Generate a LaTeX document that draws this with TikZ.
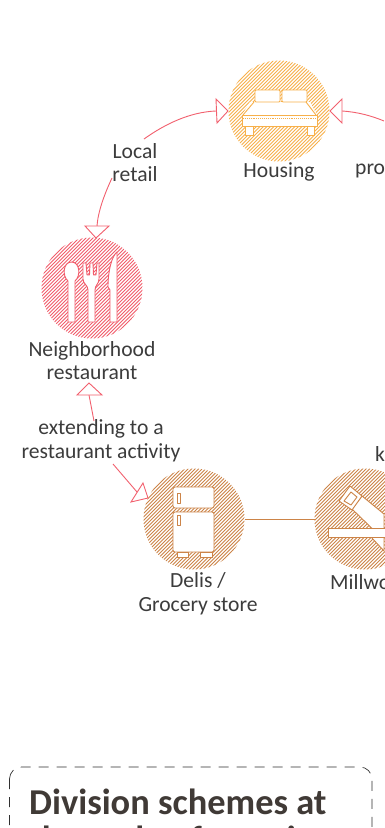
\documentclass[tikz,border=0pt]{standalone}
\usepackage{fontspec}
\setmainfont{Carlito}
\definecolor{housec}{HTML}{F7B04A}
\definecolor{restc}{HTML}{F25C6B}
\definecolor{delic}{HTML}{CC8448}
\definecolor{linkc}{HTML}{F2606E}
\definecolor{textc}{HTML}{3C3C3C}
\definecolor{titlec}{HTML}{403A36}
\tikzset{x=1pt,y=-1pt,
 hatchdisc/.style={circle,minimum size=#1,inner sep=0pt,outer sep=0pt},
 lab/.style={text=textc,font=\fontsize{21.6}{23}\selectfont,align=center,inner sep=0pt},
 link/.style={draw=linkc,line width=0.9pt},
 tipbox/.style={draw=linkc,line width=0.9pt,fill=white,line join=miter},
 iconw/.style={draw=#1,fill=white,line width=0.9pt,line join=round},
 ttl/.style={anchor=base west,text=titlec,font=\fontsize{36.4}{40}\selectfont\bfseries,inner sep=0pt}}
\newcommand{\hatchcircle}[4]{% x,y,r,colour
 \begin{scope}
 \clip (#1,#2) circle[radius=#3];
 \foreach \k in {-70,-66.5,...,70}{
   \draw[#4,line width=0.75pt] (#1+\k-70,#2+70) -- (#1+\k+70,#2-70);
 }
 \end{scope}
}
\begin{document}
\begin{tikzpicture}
\useasboundingbox (0,0) rectangle (384,828);
\fill[white] (0,0) rectangle (384,828);

% hatched discs
\coordinate (hc) at (279,111);
\coordinate (rc) at (92,288);
\coordinate (dc) at (194,519);
\coordinate (mc) at (365,519);
\hatchcircle{279}{111}{50.5}{housec}
\hatchcircle{92}{288}{50.5}{restc}
\hatchcircle{194}{519}{50.5}{delic}
\hatchcircle{365}{519}{50.5}{delic}

% named anchors
\node[hatchdisc=101pt] (housing) at (hc) {};
\node[hatchdisc=101pt] (rest) at (rc) {};
\node[hatchdisc=101pt] (deli) at (dc) {};
\node[hatchdisc=101pt] (mill) at (mc) {};

% bed
\begin{scope}[iconw=housec]
\fill[white,draw=none] (250,102) -- (310,102) -- (317,115) -- (242,115) -- cycle;
\draw (254,102) -- (243,115);
\draw (306,102) -- (316,115);
\filldraw[rounded corners=1pt] (255,90) rectangle (280,102);
\filldraw[rounded corners=1pt] (282,90) rectangle (307,102);
\filldraw (245,126) rectangle (253,135);
\filldraw (307,126) rectangle (314,135);
\filldraw (242,115) rectangle (317,126);
\draw[densely dotted] (243,118) -- (316,118);
\end{scope}

% cutlery
\begin{scope}[iconw=restc]
\filldraw (68,281) -- (68,322) -- (75,322) -- (75,281) .. controls (81,276) and (80,262) .. (71.5,262) .. controls (63,262) and (62,276) .. (68,281) -- cycle;
\filldraw (83,263) -- (83,279) .. controls (83,284) and (88,285) .. (88,290) -- (88,322) -- (95,322) -- (95,290) .. controls (95,285) and (99,284) .. (99,279) -- (99,263) -- (97,263) -- (96,275) -- (93.5,275) -- (93,263) -- (90,263) -- (89.5,275) -- (87,275) -- (86,263) -- cycle;
\filldraw (110,322) -- (117,322) -- (117,252) .. controls (112,256) and (108,270) .. (108,287) -- (110,290) -- cycle;
\end{scope}

% fridge
\begin{scope}[iconw=delic]
\filldraw[rounded corners=2pt] (173,487) rectangle (214,508);
\filldraw[rounded corners=2pt] (173,512) rectangle (214,552);
\filldraw (177,493) rectangle (180,503);
\filldraw (177,515) rectangle (180,525);
\filldraw (177,552) rectangle (188,557);
\filldraw (200,552) rectangle (212,557);
\end{scope}

% saw
\begin{scope}[iconw=delic]
\filldraw (352,509) -- (362,496) -- (384,514) -- (384,540) -- cycle;
\filldraw (339,501) -- (350,486) -- (362,496) -- (352,510) -- cycle;
\filldraw (344,501) -- (351,492) -- (357,497) -- (351,505) -- cycle;
\filldraw (371,537) -- (384,551) -- (384,537) -- cycle;
\filldraw (328,528) rectangle (386,537);
\end{scope}

% connector deli - mill
\draw[draw=delic,line width=0.8pt] (deli) -- (mill);

% labels
\node[lab] (lhouse) at (279,172) {Housing};
\node[lab] (lrest) at (92,361) {Neighborhood\\restaurant};
\node[lab] (ldeli) at (198,594) {Delis /\\[1pt]Grocery store};
\node[lab,anchor=west] (lmill) at (330,582) {Millwork};
\node[lab] (lretail) at (135,162.5) {Local\\retail};
\node[lab] (lext) at (101,441) {extending to a\\[1pt]restaurant activity};
\node[lab,anchor=west] (lpro) at (355,171) {pro};
\node[lab,anchor=west] (lk) at (375,454) {k};

% tips
\coordinate (t1a) at (228,111);
\coordinate (t1b) at (216,99);
\coordinate (t1c) at (217,123);
\coordinate (t2a) at (330,111);
\coordinate (t2b) at (342,99);
\coordinate (t2c) at (342,123);
\coordinate (t3a) at (96,238);
\coordinate (t3b) at (85,226);
\coordinate (t3c) at (109,226);
\coordinate (t4a) at (89,383);
\coordinate (t4b) at (77,395);
\coordinate (t4c) at (102,395);
\coordinate (t5a) at (148,498);
\coordinate (t5b) at (143,483);
\coordinate (t5c) at (131,502);

% curves
\coordinate (c1) at (144,139);
\coordinate (c2) at (112,178);
\coordinate (c3) at (94,421);
\coordinate (c4) at (113,464);
\draw[link] (c1) .. controls (165,124) and (190,112) .. (216,111);
\draw[link] (c2) .. controls (104,195) and (98,212) .. (97,226);
\draw[link] (342,111) .. controls (358,112) and (372,116) .. (384,121);
\draw[link] (c3) -- (89,395);
\draw[link] (c4) -- (137,492);
\draw[tipbox] (t1a) -- (t1b) -- (t1c) -- cycle;
\draw[tipbox] (t2a) -- (t2b) -- (t2c) -- cycle;
\draw[tipbox] (t3a) -- (t3b) -- (t3c) -- cycle;
\draw[tipbox] (t4a) -- (t4b) -- (t4c) -- cycle;
\draw[tipbox] (t5a) -- (t5b) -- (t5c) -- cycle;

% dashed box
\draw[draw=textc!80!black,line width=0.7pt,dash pattern=on 10pt off 8pt,rounded corners=12pt] (9.5,767) rectangle (372,870);
\node[ttl] (title) at (29,814) {Division schemes at};
\node[ttl] (title2) at (29,851) {the scale of certain};
\end{tikzpicture}
\end{document}
